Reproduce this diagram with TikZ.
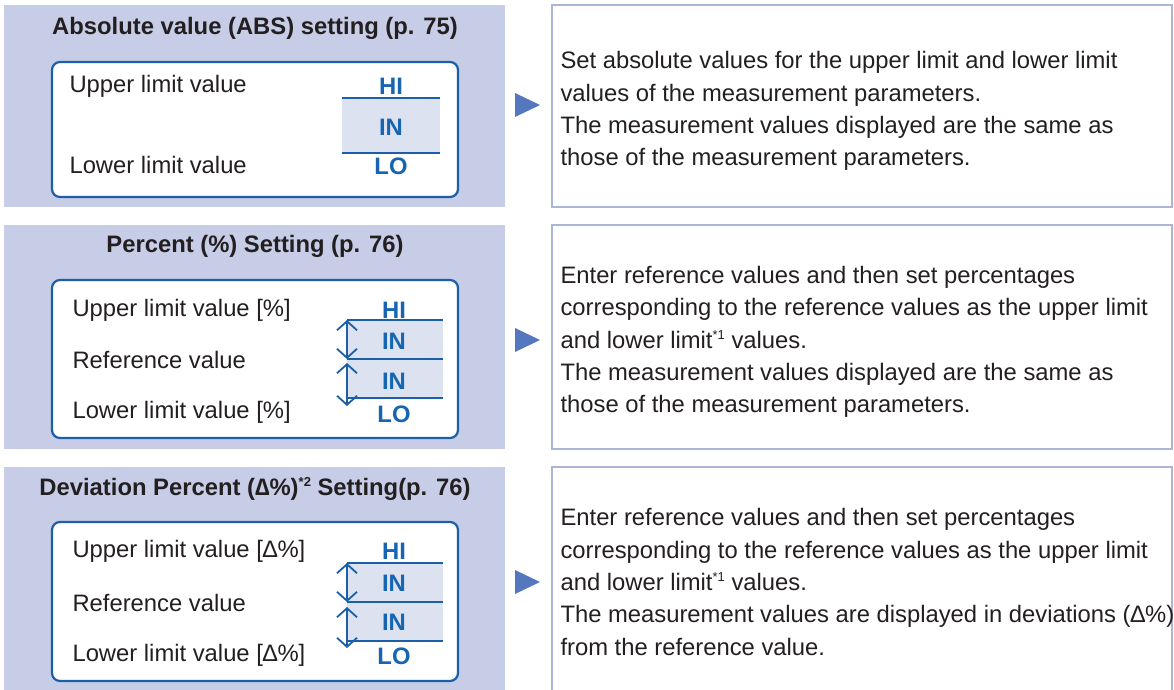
\documentclass[tikz,border=0pt]{standalone}
\usepackage{fontspec}
\setmainfont{Liberation Sans}
\usetikzlibrary{arrows.meta}
\definecolor{ink}{HTML}{231F20}
\definecolor{panel}{HTML}{C7CDE6}
\definecolor{frame}{HTML}{1A5FA8}
\definecolor{hiblue}{HTML}{1565B0}
\definecolor{band}{HTML}{DDE2F1}
\definecolor{pointer}{HTML}{5577BD}
\definecolor{rim}{HTML}{ABB5D8}
\newcommand{\fnmark}[1]{\raisebox{9pt}{\fontsize{13}{13}\selectfont #1}}

\begin{document}
\begin{tikzpicture}[x=1pt,y=-1pt,text=ink,
  font=\fontsize{23.8}{32.3}\selectfont,
  head/.style={font=\fontsize{23.8}{28}\selectfont\bfseries},
  lbl/.style={anchor=west},
  zone/.style={text=hiblue,font=\fontsize{23.8}{28}\selectfont\bfseries},
  note/.style={anchor=west,align=left},
  setbox/.style={draw=frame,line width=2.2pt,rounded corners=8pt,fill=white},
  limit/.style={draw=frame,line width=2.4pt},
  span/.style={draw=frame,line width=1.8pt,{Straight Barb[length=9pt,width=20pt]}-{Straight Barb[length=9pt,width=20pt]}},
  card/.style={draw=rim,line width=2.4pt}]
  \useasboundingbox (0,0) rectangle (1174,689);

  % absolute value
  \fill[panel] (4,5) rectangle (505,207);
  \draw[card] (552,5) rectangle (1172,207);
  \fill[pointer] (515,93)--(540,105)--(515,117)--cycle;
  \node[head] (absT) at (255,28) {Absolute value (ABS) setting (p. 75)};
  \draw[setbox] (52,62) rectangle (458,197);
  \node[lbl] (absU) at (66,86) {Upper limit value};
  \node[lbl] (absL) at (66,165) {Lower limit value};
  \fill[band] (342,98) rectangle (440,153);
  \draw[limit] (342,98)--(440,98) (342,153)--(440,153);
  \node[zone] (absH) at (391,86) {HI};
  \node[zone] (absI) at (391,127) {IN};
  \node[zone] (absO) at (391,166) {LO};
  \node[note] (absN) at (557,111) {Set absolute values for the upper limit and lower limit\\
    values of the measurement parameters.\\
    The measurement values displayed are the same as\\
    those of the measurement parameters.};

  % percent
  \fill[panel] (4,225) rectangle (505,449);
  \draw[card] (552,225) rectangle (1172,449);
  \fill[pointer] (515,328)--(540,340)--(515,352)--cycle;
  \node[head] (pctT) at (255,246) {Percent (\%) Setting (p. 76)};
  \draw[setbox] (52,280) rectangle (458,438);
  \node[lbl] (pctU) at (69,310) {Upper limit value [\%]};
  \node[lbl] (pctR) at (69,360) {Reference value};
  \node[lbl] (pctL) at (69,412) {Lower limit value [\%]};
  \fill[band] (347,320) rectangle (443,398);
  \draw[limit] (347,320)--(443,320) (347,359)--(443,359) (347,398)--(443,398);
  \draw[span] (347,320)--(347,359);
  \draw[span] (347,363)--(347,406);
  \node[zone] (pctH) at (394,310) {HI};
  \node[zone] (pctI) at (394,341) {IN};
  \node[zone] (pctJ) at (394,381) {IN};
  \node[zone] (pctO) at (394,414) {LO};
  \node[note] (pctN) at (557,342) {Enter reference values and then set percentages\\
    corresponding to the reference values as the upper limit\\
    and lower limit\fnmark{*1} values.\\
    The measurement values displayed are the same as\\
    those of the measurement parameters.};

  % deviation percent
  \fill[panel] (4,467) rectangle (505,695);
  \draw[card] (552,467) rectangle (1172,700);
  \fill[pointer] (515,570)--(540,582)--(515,594)--cycle;
  \node[head] (devT) at (255,489) {Deviation Percent (∆\%)\fnmark{\bfseries *2} Setting(p. 76)};
  \draw[setbox] (52,522) rectangle (458,681);
  \node[lbl] (devU) at (69,551) {Upper limit value [∆\%]};
  \node[lbl] (devR) at (69,603) {Reference value};
  \node[lbl] (devL) at (69,655) {Lower limit value [∆\%]};
  \fill[band] (347,563) rectangle (443,641);
  \draw[limit] (347,563)--(443,563) (347,602)--(443,602) (347,641)--(443,641);
  \draw[span] (347,563)--(347,602);
  \draw[span] (347,607)--(347,648);
  \node[zone] (devH) at (394,551) {HI};
  \node[zone] (devI) at (394,583) {IN};
  \node[zone] (devJ) at (394,622) {IN};
  \node[zone] (devO) at (394,656) {LO};
  \node[note] (devN) at (557,582) {Enter reference values and then set percentages\\
    corresponding to the reference values as the upper limit\\
    and lower limit\fnmark{*1} values.\\
    The measurement values are displayed in deviations (∆\%)\\
    from the reference value.};
\end{tikzpicture}
\end{document}
